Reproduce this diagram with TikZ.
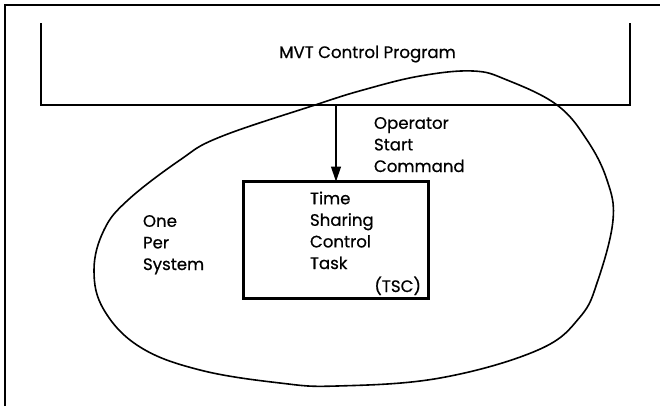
\documentclass[tikz,border=0pt]{standalone}
\usepackage{fontspec}
\setmainfont{Poppins}[FakeBold=0.6]
\usetikzlibrary{arrows.meta}
\begin{document}
\begin{tikzpicture}[x=1bp,y=-1bp,
  lbl/.style={inner sep=0pt,outer sep=0pt,align=left,
    font=\fontsize{16.6bp}{21.6bp}\selectfont},
  frameline/.style={line width=2bp},
  barline/.style={line width=2.8bp},
  taskbox/.style={draw,line width=2.2bp,minimum width=185bp,minimum height=117bp,
    inner sep=0pt,outer sep=0pt},
  blobline/.style={line width=1.6bp},
  cmdarrow/.style={line width=1.3bp,-{Triangle[length=15bp,width=10bp]}}]
\useasboundingbox (0,0) rectangle (660,406);
% page frame (left and top edges)
\draw[frameline] (5,406) -- (5,5) -- (660,5);
% MVT control program bracket
\draw[barline,line cap=butt] (41,23) -- (41,105) -- (630,105) -- (630,23);
\node[lbl,anchor=base] (mvt) at (367.5,58) {MVT Control Program};
% region boundary
\draw[blobline] plot[smooth cycle,tension=0.65] coordinates {
  (315,105) (363,90) (420,76) (473,71) (507,80) (557,105) (587,140)
  (607,180) (613,220) (598,280) (580,317) (538,350) (440,378) (337,386)
  (280,383) (200,370) (140,347) (104,310) (94,270) (104,230) (128,200)
  (180,160) (220,137)};
% time sharing control task
\node[taskbox] (tsc) at (336,240) {};
\coordinate (barbot) at (336,105);
\draw[cmdarrow] (barbot) -- (tsc.north);
% multi-line labels are anchored at the baseline of their last line
\node[lbl,anchor=base west] (cmd) at (374,172) {Operator\\Start\\Command};
\node[lbl,anchor=base west] (tsct) at (310,269) {Time\\Sharing\\Control\\Task};
\node[lbl,anchor=base east] (abbr) at (421,292) {(TSC)};
\node[lbl,anchor=base west] (one) at (143,270) {One\\Per\\System};
\end{tikzpicture}
\end{document}
